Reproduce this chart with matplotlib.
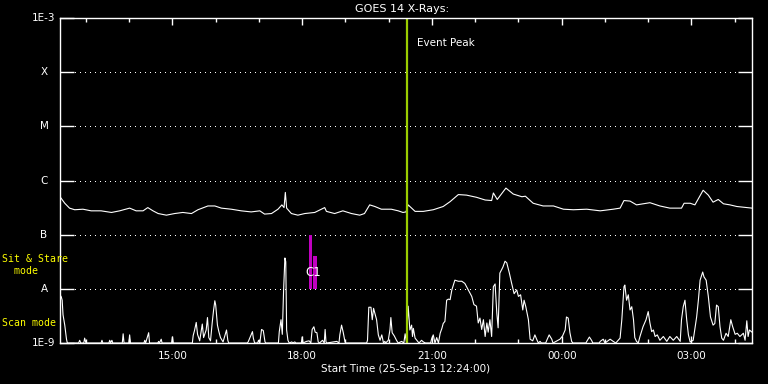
import matplotlib
matplotlib.use("Agg")
import matplotlib.pyplot as plt
import matplotlib.transforms as mtransforms
import numpy as np

# ---------------- data (hours after 12:24 on 25-Sep-13) ----------------
long_t = [0.00, 0.11, 0.22, 0.34, 0.53, 0.72, 0.95, 1.19, 1.38, 1.61, 1.76, 1.92, 2.03, 2.15,
          2.27, 2.46, 2.65, 2.84, 3.04, 3.19, 3.42, 3.58, 3.73, 3.96, 4.19, 4.42, 4.62, 4.73,
          4.89, 5.04, 5.13, 5.18, 5.21, 5.24, 5.35, 5.50, 5.66, 5.89, 6.12, 6.16, 6.35, 6.54,
          6.74, 6.93, 7.04, 7.16, 7.28, 7.43, 7.66, 7.82, 7.93, 8.00, 8.05, 8.21, 8.40, 8.63,
          8.86, 9.02, 9.21, 9.40, 9.63, 9.83, 9.98, 10.02, 10.11, 10.31, 10.48, 10.68, 10.76,
          10.94, 11.17, 11.41, 11.64, 11.87, 12.18, 12.49, 12.79, 12.95, 13.04, 13.18, 13.33,
          13.64, 13.87, 14.10, 14.37, 14.43, 14.57, 14.68, 14.87, 14.99, 15.10, 15.22, 15.34,
          15.49, 15.65, 16.00]
long_log = [-6.30, -6.42, -6.51, -6.54, -6.53, -6.56, -6.56, -6.59, -6.56, -6.51, -6.56, -6.56,
            -6.50, -6.56, -6.61, -6.64, -6.61, -6.59, -6.61, -6.54, -6.47, -6.47, -6.51, -6.53,
            -6.56, -6.58, -6.56, -6.62, -6.61, -6.53, -6.45, -6.50, -6.22, -6.51, -6.61, -6.64,
            -6.61, -6.59, -6.50, -6.57, -6.61, -6.56, -6.61, -6.64, -6.61, -6.45, -6.48, -6.53,
            -6.53, -6.56, -6.59, -6.58, -6.45, -6.57, -6.57, -6.54, -6.48, -6.39, -6.26, -6.27,
            -6.31, -6.36, -6.37, -6.23, -6.35, -6.14, -6.25, -6.30, -6.29, -6.42, -6.47, -6.47,
            -6.53, -6.54, -6.53, -6.56, -6.53, -6.51, -6.37, -6.38, -6.45, -6.41, -6.47, -6.51,
            -6.51, -6.42, -6.42, -6.45, -6.18, -6.27, -6.40, -6.35, -6.43, -6.45, -6.48, -6.51]

short_t = [0.00, 0.03, 0.05, 0.07, 0.11, 0.15, 0.17,
           0.43, 0.455, 0.48, 0.55, 0.57, 0.60, 0.95, 0.97, 0.99,
           1.13, 1.15, 1.17, 1.20, 1.22, 1.44, 1.46, 1.48, 1.59, 1.61, 1.63,
           1.94, 1.96, 1.98, 2.02, 2.05, 2.07, 2.26, 2.28, 2.30, 2.34, 2.36, 2.58, 2.60, 2.62,
           3.06, 3.08, 3.11, 3.15, 3.18, 3.23, 3.29, 3.32, 3.38, 3.41, 3.44, 3.48, 3.52, 3.55,
           3.58, 3.60, 3.64, 3.67, 3.71, 3.77, 3.85, 3.88, 3.90,
           4.33, 4.35, 4.42, 4.45, 4.47, 4.50, 4.57, 4.59, 4.62, 4.66, 4.70, 4.74, 4.76,
           5.05, 5.07, 5.11, 5.14, 5.17, 5.20, 5.22, 5.24, 5.27, 5.30, 5.36, 5.38, 5.43, 5.45,
           5.58, 5.60, 5.62, 5.70, 5.76, 5.80, 5.83, 5.87, 5.90, 5.94, 5.97, 6.00,
           6.07, 6.11, 6.13, 6.15, 6.17, 6.32, 6.40, 6.45, 6.47, 6.51, 6.55, 6.59, 6.61,
           7.09, 7.11, 7.14, 7.19, 7.22, 7.25, 7.28, 7.32, 7.36, 7.40, 7.44, 7.48, 7.51, 7.53,
           7.59, 7.63, 7.65, 7.68, 7.73, 7.78, 7.82, 7.90, 7.95, 7.98, 8.01,
           8.05, 8.09, 8.13, 8.15, 8.17, 8.21, 8.25, 8.30, 8.36, 8.40, 8.45,
           8.57, 8.59, 8.63, 8.67, 8.71, 8.75, 8.79, 8.83, 8.86, 8.90, 8.94, 8.98, 9.02, 9.06,
           9.13, 9.21, 9.29, 9.36, 9.44, 9.52, 9.57, 9.63, 9.67, 9.71, 9.75, 9.79, 9.83, 9.87,
           9.90, 9.94, 9.98, 10.02, 10.06, 10.10, 10.13, 10.17, 10.24, 10.29, 10.33, 10.39,
           10.44, 10.50, 10.56, 10.60, 10.65, 10.70, 10.73, 10.77, 10.83, 10.87, 10.93, 10.98,
           11.02, 11.06, 11.10, 11.13,
           11.23, 11.25, 11.31, 11.37, 11.40, 11.56, 11.62, 11.68, 11.71, 11.75, 11.79, 11.83, 11.86,
           12.16, 12.18, 12.24, 12.29, 12.32, 12.47, 12.49, 12.56, 12.60, 12.72, 12.79, 12.85,
           12.95, 12.99, 13.04, 13.06, 13.10, 13.14, 13.18, 13.22, 13.26, 13.29, 13.33, 13.37,
           13.41, 13.48, 13.55, 13.60, 13.64, 13.68, 13.72, 13.76, 13.81, 13.87, 13.95, 14.03,
           14.10, 14.18, 14.26, 14.34,
           14.37, 14.41, 14.45, 14.49, 14.53, 14.57, 14.64, 14.72, 14.76, 14.80, 14.86, 14.89,
           14.94, 14.99, 15.04, 15.10, 15.14, 15.18, 15.22, 15.26, 15.30, 15.34, 15.40, 15.45,
           15.51, 15.55, 15.61, 15.66, 15.72, 15.80, 15.84, 15.88, 15.91, 15.94, 16.00]
short_log = [-8.11, -8.15, -8.21, -8.48, -8.67, -8.93, -9.0,
             -9.0, -8.95, -9.0, -9.0, -8.91, -9.0, -9.0, -8.95, -9.0,
             -9.0, -8.95, -9.0, -8.95, -9.0, -9.0, -8.83, -9.0, -9.0, -8.85, -9.0,
             -9.0, -8.95, -9.0, -8.89, -8.81, -9.0, -9.0, -8.97, -9.0, -8.93, -9.0, -9.0, -8.89, -9.0,
             -9.0, -8.86, -8.77, -8.62, -8.84, -8.96, -8.65, -8.90, -8.76, -8.53, -8.90, -8.96, -8.62, -8.40,
             -8.22, -8.30, -8.67, -8.78, -8.90, -8.98, -8.76, -8.95, -9.0,
             -9.0, -8.98, -8.85, -8.79, -8.91, -9.0, -9.0, -8.95, -9.0, -8.75, -8.77, -8.98, -9.0,
             -9.0, -8.79, -8.57, -8.84, -8.02, -7.43, -7.50, -8.76, -8.95, -9.0, -8.98, -9.0, -8.98, -9.0,
             -9.0, -8.89, -9.0, -8.97, -8.96, -9.0, -8.75, -8.70, -8.80, -8.81, -8.98, -9.0,
             -8.95, -9.0, -8.75, -8.98, -9.0, -8.98, -8.97, -9.0, -8.85, -8.67, -8.81, -8.98, -9.0,
             -9.0, -8.95, -8.34, -8.34, -8.57, -8.36, -8.45, -8.57, -8.85, -8.95, -8.85, -9.0, -8.97, -9.0,
             -8.95, -8.75, -8.53, -8.81, -8.87, -8.95, -9.0, -8.97, -9.0, -8.83, -8.98,
             -8.32, -8.76, -8.67, -8.88, -8.73, -8.91, -8.95, -9.0, -8.95, -8.98, -9.0,
             -9.0, -8.93, -8.85, -9.0, -8.90, -9.0, -8.82, -8.73, -8.64, -8.60, -8.21, -8.19, -8.20, -8.02,
             -7.84, -7.86, -7.86, -7.90, -8.02, -8.14, -8.29, -8.32, -8.63, -8.54, -8.75, -8.57, -8.88, -8.63,
             -8.80, -8.57, -8.88, -7.96, -7.91, -8.45, -8.72, -7.71, -7.60, -7.49, -7.52, -7.71,
             -7.89, -8.09, -8.02, -8.14, -8.11, -8.39, -8.21, -8.33, -8.57, -8.93, -8.96, -8.85,
             -8.93, -9.0, -8.97, -9.0,
             -9.0, -8.96, -8.85, -8.93, -9.0, -8.93, -8.87, -8.76, -8.52, -8.54, -8.81, -8.97, -9.0,
             -9.0, -8.97, -8.89, -8.95, -9.0, -9.0, -8.97, -8.93, -9.0, -8.93, -8.97, -9.0,
             -8.91, -8.57, -7.96, -7.93, -8.21, -8.11, -8.39, -8.33, -8.57, -8.90, -8.97, -9.0,
             -8.88, -8.70, -8.57, -8.42, -8.63, -8.79, -8.76, -8.88, -8.85, -8.95, -8.88, -8.97,
             -8.88, -8.95, -8.88, -8.97,
             -8.57, -8.33, -8.21, -8.57, -8.85, -8.98, -8.95, -8.52, -8.21, -7.84, -7.69, -7.78,
             -7.84, -8.14, -8.52, -8.67, -8.64, -8.30, -8.33, -8.70, -8.91, -8.95, -8.82, -8.88,
             -8.57, -8.69, -8.84, -8.82, -8.88, -8.82, -8.95, -8.59, -8.88, -8.76, -8.80]

event_peak = 8.02                     # ~20:25
flare_t = [5.795, 5.895]
flare_top = [1.0e-7, 4.1e-8]
flare_bottom = 1.0e-8
flare_width = [0.07, 0.09]
flare_label = "C1"

class_levels = [1e-3, 1e-4, 1e-5, 1e-6, 1e-7, 1e-8, 1e-9]
class_labels = ["1E-3", "X", "M", "C", "B", "A", "1E-9"]
xtick_pos = [2.6, 5.6, 8.6, 11.6, 14.6]
xtick_labels = ["15:00", "18:00", "21:00", "00:00", "03:00"]

# ---------------- figure ----------------
W, H = 768, 384
fig = plt.figure(figsize=(W / 100, H / 100), dpi=100, facecolor="black")
ax = fig.add_axes([60 / W, 41 / H, 692 / W, 325 / H], facecolor="black")
ax.set_yscale("log")
ax.set_xlim(0, 16)
ax.set_ylim(1e-9, 1e-3)

fs = 7.5
# dotted class lines
for lvl in class_levels[1:-1]:
    ax.axhline(lvl, color="white", lw=0.72, linestyle=(0, (1, 5)), zorder=1, antialiased=False)

# data
ax.plot(long_t, 10 ** np.array(long_log), color="white", lw=0.8, zorder=3)
ax.plot(short_t, 10 ** np.array(short_log), color="white", lw=0.8, zorder=3)

# flare markers
ax.bar(flare_t, np.array(flare_top) - flare_bottom, bottom=flare_bottom, width=flare_width,
       color="#c000c0", linewidth=0, zorder=2)
ax.text(np.mean(flare_t), 10 ** -7.69, flare_label, color="white", fontsize=8.5,
        ha="center", va="center", zorder=4)

# event peak
ax.axvline(event_peak, color="#9acd00", lw=1.6, zorder=5)
ax.annotate("Event Peak", xy=(event_peak, 1e-3), xytext=(7.5, -18), textcoords="offset points",
            color="white", fontsize=fs, ha="left", va="center")

# axes styling
for s in ax.spines.values():
    s.set_color("white")
    s.set_linewidth(1.0)
    s.set_zorder(6)

ax.set_yticks(class_levels)
ax.yaxis.set_minor_locator(matplotlib.ticker.NullLocator())
ax.tick_params(axis="y", which="major", direction="in", length=10, width=1.0, color="white",
               left=True, right=True, labelleft=False, labelright=False)
ax.set_xticks(xtick_pos)
ax.set_xticklabels(xtick_labels)
ax.set_xticks(np.arange(0.6, 16, 1.0), minor=True)
ax.tick_params(axis="x", which="major", direction="in", length=5, width=1.0, color="white",
               top=True, bottom=True, labelcolor="white", labelsize=fs, pad=6)
ax.tick_params(axis="x", which="minor", direction="in", length=3, width=1.0, color="white",
               top=True, bottom=True)

# y class labels centred at x = 44 px
trans = mtransforms.blended_transform_factory(fig.transFigure, ax.transData)
for lvl, lab in zip(class_levels, class_labels):
    ax.text(44 / W, lvl, lab, transform=trans, color="white", fontsize=fs,
            ha="center", va="center", clip_on=False)

ax.set_xlabel("Start Time (25-Sep-13 12:24:00)", color="white", fontsize=fs, labelpad=2)
fig.text(402 / W, 1 - 9 / H, "GOES 14 X-Rays:", color="white", fontsize=fs + 0.5,
         ha="center", va="center")

# mode labels
mono = "DejaVu Sans Mono"
fig.text(2 / W, 1 - 258.5 / H, "Sit & Stare", color="#ffff00", fontsize=7.1, family=mono,
         ha="left", va="center")
fig.text(2 / W, 1 - 271 / H, "  mode", color="#ffff00", fontsize=7.1, family=mono,
         ha="left", va="center")
fig.text(2 / W, 1 - 323.5 / H, "Scan mode", color="#ffff00", fontsize=7.1, family=mono,
         ha="left", va="center")

fig.savefig("out.png", dpi=100, facecolor="black")
